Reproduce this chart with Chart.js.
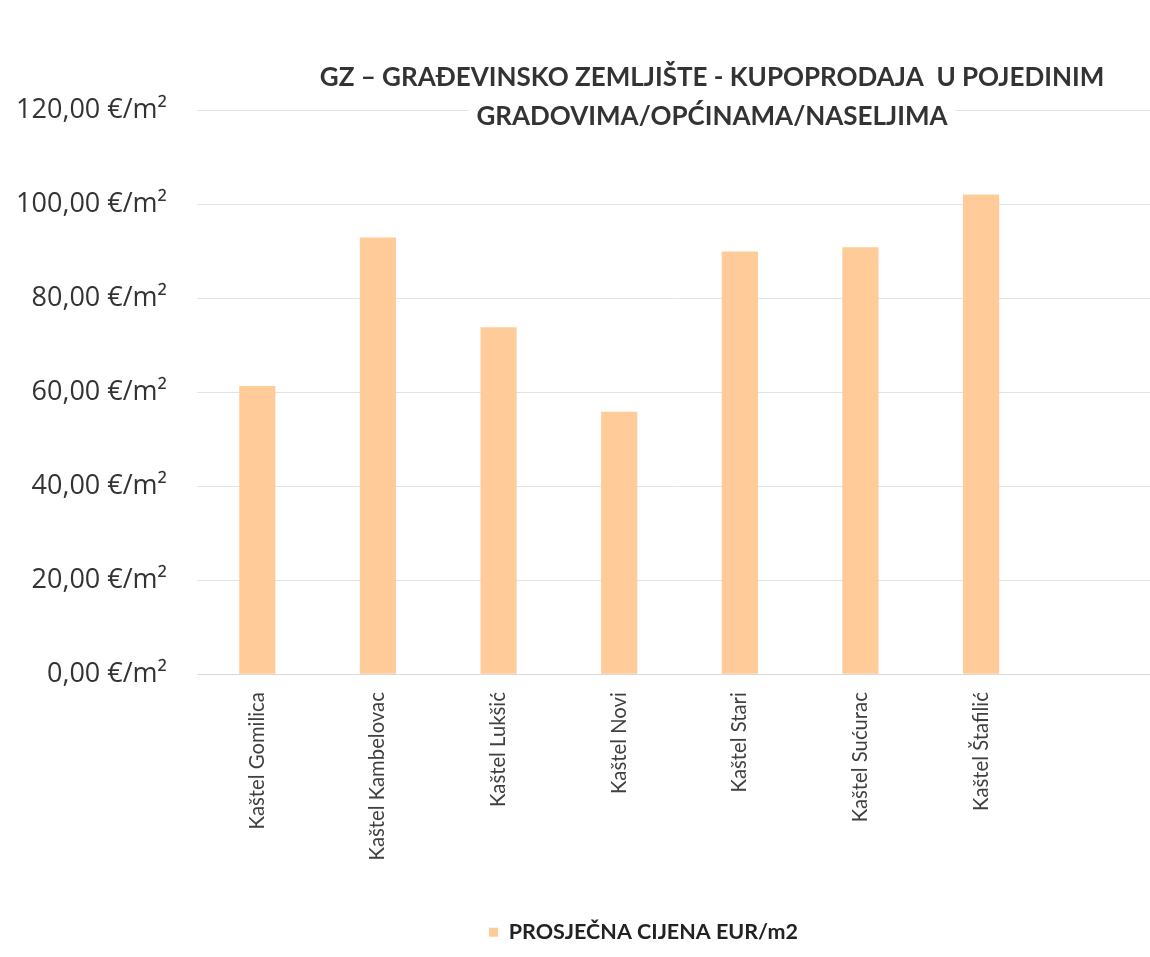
<!DOCTYPE html>
<html>
<head>
<meta charset="utf-8">
<script src="https://cdn.jsdelivr.net/npm/chart.js@4.4.0/dist/chart.umd.min.js"></script>
<style>
  html, body { margin: 0; padding: 0; background: #fff; overflow: hidden; }
  #wrap { width: 1150px; height: 957px; overflow: hidden; position: relative; }
  canvas { position: absolute; left: 0; top: 0; }
</style>
</head>
<body>
<div id="wrap"><canvas id="barChart" width="1162" height="957"></canvas></div>
<script>
const naselja = ["Kaštel Gomilica", "Kaštel Kambelovac", "Kaštel Lukšić", "Kaštel Novi",
  "Kaštel Stari", "Kaštel Sućurac", "Kaštel Štafilić", ""];
const cijene = [61.3, 92.9, 73.8, 55.8, 89.9, 90.8, 102.0, null];
const naslov = ["GZ – GRAĐEVINSKO ZEMLJIŠTE - KUPOPRODAJA  U POJEDINIM", "GRADOVIMA/OPĆINAMA/NASELJIMA"];
const nazivSerije = "PROSJEČNA CIJENA EUR/m2";

function formatCijena(v) {
  return v.toFixed(2).replace(".", ",") + " €/m²";
}

// naslov preko grafa, kao u Excelu
const naslovPlugin = {
  id: "naslov",
  afterLayout(chart) {
    // legenda je u originalu malo desno od sredine
    chart.legend.left += 54;
    chart.legend.right += 54;
  },
  afterDraw(chart) {
    const ctx = chart.ctx;
    ctx.save();
    ctx.font = "bold 26px Lato";
    ctx.textAlign = "center";
    ctx.textBaseline = "middle";
    const x = 712;
    const w = ctx.measureText(naslov[1]).width;
    ctx.fillStyle = "#fff";
    ctx.fillRect(x - w / 2 - 8, 101, w + 16, 32);
    ctx.fillStyle = "#333";
    ctx.fillText(naslov[0], x, 78);
    ctx.fillText(naslov[1], x, 117);
    ctx.restore();
  }
};

function nacrtaj() {
  new Chart(document.getElementById("barChart"), {
    type: "bar",
    data: {
      labels: naselja,
      datasets: [{
        label: nazivSerije,
        data: cijene,
        backgroundColor: "#FFCC99",
        barPercentage: 0.6,
        categoryPercentage: 0.5
      }]
    },
    options: {
      responsive: false,
      animation: false,
      layout: { padding: { top: 110, left: 17, right: 0, bottom: 4 } },
      plugins: {
        legend: {
          position: "bottom",
          labels: {
            color: "#222",
            font: { family: "Lato", size: 21.5, weight: "bold" },
            boxWidth: 9,
            boxHeight: 9,
            padding: 40
          }
        },
        tooltip: { enabled: false }
      },
      scales: {
        x: {
          grid: { display: false },
          border: { color: "#d9d9d9" },
          afterFit: s => { s.height += 11; },
          ticks: {
            color: "#404040",
            font: { family: "Lato", size: 20.3 },
            maxRotation: 90,
            minRotation: 90,
            padding: 10
          }
        },
        y: {
          min: 0,
          max: 120,
          afterFit: s => { s.width = 180; },
          ticks: {
            stepSize: 20,
            color: "#333",
            font: { family: "Open Sans", size: 27 },
            padding: 30,
            callback: v => formatCijena(v)
          },
          grid: { color: "#e3e3e3", drawTicks: false },
          border: { display: false }
        }
      }
    },
    plugins: [naslovPlugin]
  });
}

Promise.all([
  document.fonts.load("27px 'Open Sans'"),
  document.fonts.load("20.3px Lato"),
  document.fonts.load("bold 26px Lato")
]).then(nacrtaj, nacrtaj);
</script>
</body>
</html>
